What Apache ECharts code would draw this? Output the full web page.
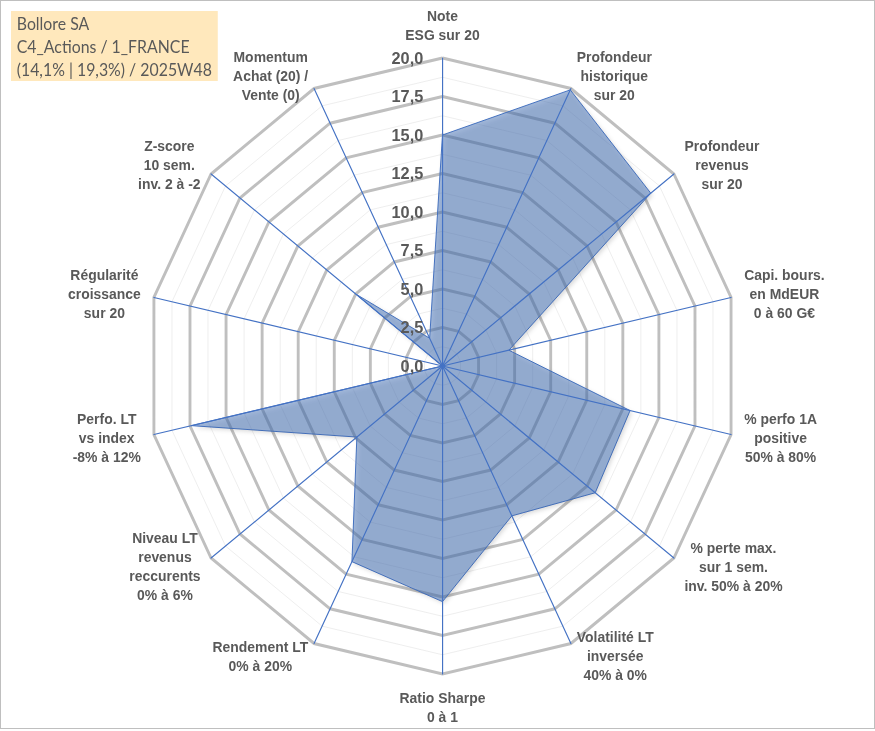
<!DOCTYPE html>
<html>
<head>
<meta charset="utf-8">
<script src="https://cdn.jsdelivr.net/npm/echarts@6/dist/echarts.min.js"></script>
<style>
  html, body { margin: 0; padding: 0; background: #fff; }
  #frame { position: absolute; left: 0; top: 0; width: 873px; height: 727px; border: 1px solid #BFBFBF; overflow: hidden; }
  /* the reference polygon is a little narrower than tall: draw wide, squeeze horizontally */
  #chart { width: 908px; height: 727px; transform: scaleX(0.961); transform-origin: 0 0; }
</style>
</head>
<body>
<div id="frame"><div id="chart"></div></div>
<script>
// axes, clockwise from the top, as in the reference
const axisNames = [
  'Note\nESG sur 20',
  'Profondeur\nhistorique\nsur 20',
  'Profondeur\nrevenus\nsur 20',
  'Capi. bours.\nen MdEUR\n0 à 60 G€',
  '% perfo 1A\npositive\n50% à 80%',
  '% perte max.\nsur 1 sem.\ninv. 50% à 20%',
  'Volatilité LT\ninversée\n40% à 0%',
  'Ratio Sharpe\n0 à 1',
  'Rendement LT\n0% à 20%',
  'Niveau LT\nrevenus\nreccurents\n0% à 6%',
  'Perfo. LT\nvs index\n-8% à 12%',
  'Régularité\ncroissance\nsur 20',
  'Z-score\n10 sem.\ninv. 2 à -2',
  'Momentum\nAchat (20) /\nVente (0)'
];
const scores = [15, 19.9, 18, 4.6, 13, 13.2, 10.8, 15.3, 14.1, 7.4, 17.4, 0, 7.5, 2];
const scaleMax = 20;
const titleLines = ['Bollore SA', 'C4_Actions / 1_FRANCE', '(14,1% | 19,3%) / 2025W48'];

// echarts places indicators counter-clockwise: reverse, keeping the first on top
const order = axisNames.map((_, i) => (axisNames.length - i) % axisNames.length);
const fmt = v => v.toFixed(1).replace('.', ',');

const center = [459.4, 365];
const radius = 308;

const nameFont = {
  color: '#595959',
  fontFamily: 'Liberation Sans',
  fontWeight: 'bold',
  fontSize: 14.5,
  lineHeight: 19
};

function makeIndicators(withLabel) {
  return order.map((k, i) => {
    const ind = { name: axisNames[k], min: 0, max: scaleMax };
    if (withLabel && i === 0) {
      ind.axisLabel = { show: true };
    }
    return ind;
  });
}

const chart = echarts.init(document.getElementById('chart'), null, { renderer: 'svg' });

const option = {
  animation: false,
  title: {
    text: titleLines.join('\n'),
    left: 10.4,
    top: 10,
    padding: [1, 6, 0, 6],
    backgroundColor: '#FFE8BC',
    textStyle: {
      fontFamily: 'Lato',
      fontWeight: 'normal',
      fontSize: 16.5,
      lineHeight: 23,
      color: '#595959'
    }
  },
  radar: [
    {
      // minor rings
      center: center, radius: radius, shape: 'polygon', splitNumber: 16,
      indicator: makeIndicators(false),
      axisName: { show: false },
      axisLine: { show: false }, axisTick: { show: false }, axisLabel: { show: false },
      splitArea: { show: false },
      splitLine: { lineStyle: { color: '#EEEEEE', width: 1 } }
    },
    {
      // major rings
      center: center, radius: radius, shape: 'polygon', splitNumber: 8,
      indicator: makeIndicators(false),
      axisName: { show: false },
      axisLine: { show: false }, axisTick: { show: false }, axisLabel: { show: false },
      splitArea: { show: false },
      splitLine: { lineStyle: { color: '#BFBFBF', width: 3 } }
    },
    {
      // spokes, names and tick labels above the area
      center: center, radius: radius, shape: 'polygon', splitNumber: 8, z: 3,
      indicator: makeIndicators(true),
      nameGap: 14,
      axisName: Object.assign({
        formatter: name => name.split('\n').map(l => '{c|' + l + '}').join('\n'),
        rich: { c: Object.assign({ align: 'center' }, nameFont) }
      }, nameFont),
      axisLine: { lineStyle: { color: '#4472C4', width: 1.2 } },
      axisTick: { show: false },
      axisLabel: {
        show: false,
        formatter: fmt,
        color: '#595959',
        fontFamily: 'Liberation Sans',
        fontWeight: 'bold',
        fontSize: 17,
        align: 'right',
        margin: 20
      },
      splitLine: { show: false },
      splitArea: { show: false }
    }
  ],
  series: [
    {
      type: 'radar',
      radarIndex: 1,
      symbol: 'none',
      z: 2,
      lineStyle: { color: '#4472C4', width: 1 },
      areaStyle: {
        color: 'rgba(65,110,180,0.7)',
        shadowBlur: 4,
        shadowColor: 'rgba(0,0,0,0.3)',
        shadowOffsetX: 2,
        shadowOffsetY: 2
      },
      data: [{ value: order.map(k => scores[k]) }]
    }
  ]
};

chart.setOption(option);
</script>
</body>
</html>
